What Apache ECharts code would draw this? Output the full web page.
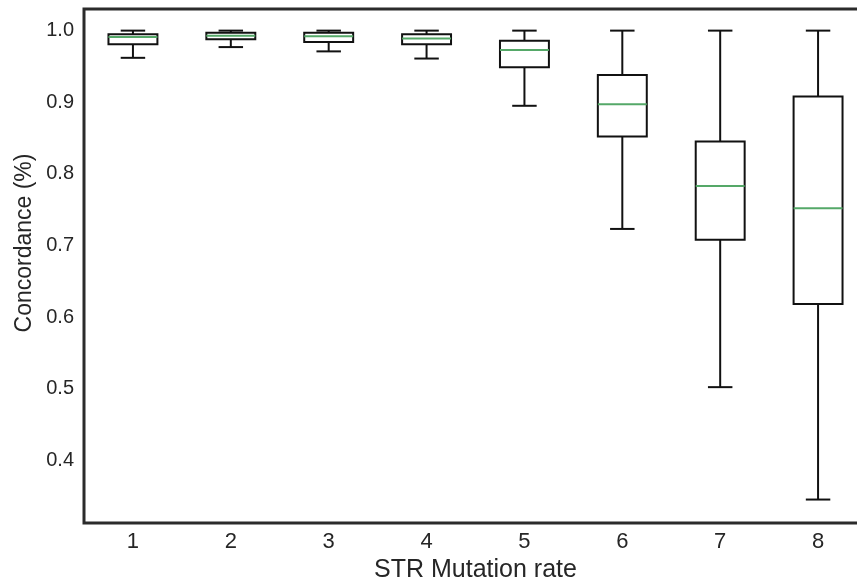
<!DOCTYPE html>
<html>
<head>
<meta charset="utf-8">
<title>Concordance boxplot</title>
<script src="https://cdn.jsdelivr.net/npm/echarts@6/dist/echarts.min.js"></script>
<style>
  html, body { margin: 0; padding: 0; background: #fff; overflow: hidden; }
  /* the original figure is cropped on the right, so the canvas runs past the window */
  #chart { width: 880px; height: 588px; }
</style>
</head>
<body>
<div id="chart"></div>
<script>
// mutation rate categories
const categories = ["1", "2", "3", "4", "5", "6", "7", "8"];
// box stats per category
const whiskerLow = [0.962, 0.977, 0.971, 0.961, 0.895, 0.723, 0.502, 0.345];
const q1 = [0.981, 0.988, 0.984, 0.981, 0.949, 0.852, 0.708, 0.618];
const median = [0.991, 0.993, 0.992, 0.989, 0.973, 0.897, 0.783, 0.752];
const q3 = [0.995, 0.997, 0.997, 0.995, 0.986, 0.938, 0.845, 0.908];
const whiskerHigh = [1.0, 1.0, 1.0, 1.0, 1.0, 1.0, 1.0, 1.0];
const yTicks = [0.4, 0.5, 0.6, 0.7, 0.8, 0.9, 1.0];

const boxData = categories.map((c, i) => [i, whiskerLow[i], q1[i], median[i], q3[i], whiskerHigh[i]]);

const chart = echarts.init(document.getElementById("chart"));

function renderBox(params, api) {
  const idx = api.value(0);
  const pLow = api.coord([idx, api.value(1)]);
  const pQ1 = api.coord([idx, api.value(2)]);
  const pMed = api.coord([idx, api.value(3)]);
  const pQ3 = api.coord([idx, api.value(4)]);
  const pHigh = api.coord([idx, api.value(5)]);
  const band = api.size([1, 0])[0];
  const half = band * 0.25;
  const capHalf = half / 2;
  const x = pMed[0];
  const black = { stroke: "#111", lineWidth: 2, fill: null };
  return {
    type: "group",
    children: [
      { type: "line", shape: { x1: x, y1: pHigh[1], x2: x, y2: pQ3[1] }, style: black },
      { type: "line", shape: { x1: x, y1: pQ1[1], x2: x, y2: pLow[1] }, style: black },
      { type: "line", shape: { x1: x - capHalf, y1: pHigh[1], x2: x + capHalf, y2: pHigh[1] }, style: black },
      { type: "line", shape: { x1: x - capHalf, y1: pLow[1], x2: x + capHalf, y2: pLow[1] }, style: black },
      {
        type: "rect",
        shape: { x: x - half, y: pQ3[1], width: half * 2, height: pQ1[1] - pQ3[1] },
        style: { stroke: "#111", lineWidth: 2, fill: "#fff" }
      },
      { type: "line", shape: { x1: x - half, y1: pMed[1], x2: x + half, y2: pMed[1] }, style: { stroke: "#55a868", lineWidth: 2 } }
    ]
  };
}

const option = {
  backgroundColor: "#fff",
  animation: false,
  grid: {
    left: 84,
    top: 9,
    width: 783,
    height: 523,
    show: true,
    borderColor: "#2b2b2b",
    borderWidth: 3,
    backgroundColor: "#fff"
  },
  xAxis: {
    type: "category",
    data: categories,
    name: "STR Mutation rate",
    nameLocation: "middle",
    nameGap: 32,
    nameTextStyle: { color: "#262626", fontSize: 25, fontFamily: "Liberation Sans" },
    axisLine: { show: false },
    axisTick: { show: false },
    splitLine: { show: false },
    axisLabel: { color: "#262626", fontSize: 22, fontFamily: "Liberation Sans", margin: 8 }
  },
  yAxis: {
    type: "value",
    min: 0.3121,
    max: 1.0302,
    axisLine: { show: false },
    axisTick: { show: false },
    splitLine: { show: false },
    axisLabel: {
      customValues: yTicks,
      color: "#262626",
      fontSize: 20,
      fontFamily: "Liberation Sans",
      margin: 10,
      formatter: (v) => v.toFixed(1)
    }
  },
  graphic: [
    {
      type: "text",
      x: 25,
      y: 243,
      rotation: Math.PI / 2,
      style: {
        text: "Concordance (%)",
        fill: "#262626",
        fontSize: 23,
        fontFamily: "Liberation Sans",
        align: "center",
        verticalAlign: "middle"
      }
    }
  ],
  series: [
    {
      type: "custom",
      renderItem: renderBox,
      encode: { x: 0, y: [1, 2, 3, 4, 5] },
      data: boxData
    }
  ]
};

chart.setOption(option);
</script>
</body>
</html>
